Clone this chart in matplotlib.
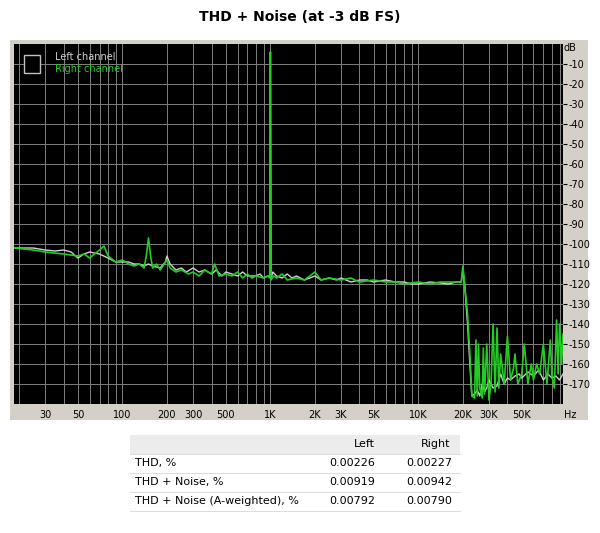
import matplotlib
matplotlib.use("Agg")
import matplotlib.pyplot as plt
from matplotlib.patches import Rectangle

freq_l = [18.5, 25, 30, 35, 40, 45, 50, 55, 60, 70, 80, 90, 100, 110, 120, 130, 140, 150, 160, 180, 195, 200, 210, 230, 250, 270, 300, 330, 360, 400, 430, 470, 500, 550, 600, 650, 700, 800, 850, 900, 960, 990, 1000, 1010, 1040, 1100, 1200, 1300, 1400, 1500, 1700, 2000, 2200, 2500, 2800, 3000, 3500, 4000, 4500, 5000, 6000, 7000, 8000, 9000, 10000, 12000, 14000, 16000, 18000, 19500, 20000, 20500, 21500, 22500, 23000, 24000, 25000, 26000, 27000, 28000, 29000, 30000, 32000, 34000, 36000, 38000, 40000, 42000, 45000, 48000, 50000, 55000, 60000, 65000, 70000, 75000, 80000, 85000, 90000, 95000]
db_l = [-102, -102, -103, -103.5, -103, -104, -107, -105, -104, -105, -107, -109, -109, -109, -110, -110, -111, -110, -111, -112, -109, -106, -110, -113, -112, -114, -112, -114, -113, -115, -113, -116, -114, -115, -116, -114, -116, -116, -115, -117, -116, -116, -4, -117, -114, -116, -117, -115, -117, -116, -118, -116, -118, -117, -118, -117, -119, -118, -118, -119, -118, -119, -119, -120, -120, -119, -119.5, -120, -119, -119, -113, -119, -140, -165, -176, -175, -173, -176, -170, -174, -172, -168, -172, -171, -165, -170, -167, -168, -166, -165, -167, -164, -166, -163, -168, -165, -167, -166, -168, -165]

freq_r = [18.5, 25, 30, 40, 50, 55, 60, 70, 75, 80, 90, 100, 110, 120, 130, 140, 145, 150, 155, 160, 170, 180, 200, 210, 230, 250, 280, 300, 330, 360, 400, 420, 450, 500, 550, 600, 650, 700, 750, 800, 900, 960, 990, 1000, 1010, 1050, 1100, 1200, 1300, 1500, 1700, 2000, 2200, 2500, 3000, 3500, 4000, 5000, 6000, 7000, 8000, 10000, 12000, 14000, 16000, 18000, 19500, 20000, 20500, 21500, 22500, 23000, 24000, 24500, 25000, 25500, 26000, 27000, 27500, 28000, 29000, 30000, 31000, 32000, 33000, 34000, 35000, 36000, 38000, 40000, 42000, 44000, 45000, 47000, 50000, 52000, 55000, 58000, 60000, 63000, 66000, 70000, 74000, 78000, 80000, 83000, 86000, 88000, 90000, 93000, 95000]
db_r = [-102, -103, -104, -105, -106, -105, -107, -103, -101, -106, -109, -108, -110, -111, -110, -112, -106, -97, -106, -112, -110, -113, -108, -112, -114, -113, -115, -114, -116, -113, -115, -110, -116, -115, -116, -114, -117, -115, -117, -116, -117, -116, -117, -4, -118, -116, -117, -115, -118, -117, -118, -114, -118, -117, -118, -117, -119, -118, -119, -119, -120, -119, -120, -119, -119, -119, -119, -111, -119, -135, -160, -176, -177, -148, -176, -150, -172, -177, -152, -175, -150, -178, -170, -140, -174, -142, -172, -155, -170, -146, -168, -162, -155, -170, -165, -150, -170, -160, -168, -160, -165, -150, -170, -148, -166, -172, -138, -165, -140, -160, -145]

tbl_rows = ["THD, %", "THD + Noise, %", "THD + Noise (A-weighted), %"]
tbl_left = ["0.00226", "0.00919", "0.00792"]
tbl_right = ["0.00227", "0.00942", "0.00790"]

xticks = [30, 50, 100, 200, 300, 500, 1000, 2000, 3000, 5000, 10000, 20000, 30000, 50000]
xlabels = ["30", "50", "100", "200", "300", "500", "1K", "2K", "3K", "5K", "10K", "20K", "30K", "50K"]
ytick_vals = list(range(-10, -180, -10))

fig = plt.figure(figsize=(6, 5.33), dpi=100)
bg = fig.add_axes([10/600, 1-420/533, 578/600, 380/533], zorder=-5)
bg.set_facecolor("#d4d0c8")
bg.set_xticks([]); bg.set_yticks([])
for s in bg.spines.values():
    s.set_visible(False)
fig.text(0.5, 1-17/533, "THD + Noise (at -3 dB FS)", ha="center", va="center", fontsize=10, fontweight="bold")

ax = fig.add_axes([14/600, 1-404/533, 549/600, 360/533], zorder=1)
ax.set_facecolor("black")
ax.set_xscale("log")
ax.set_xlim(18.5, 95000)
ax.set_ylim(-180, 0)
minor = [v * 10**k for k in range(1, 5) for v in range(2, 10)] + [10, 100, 1000, 10000, 100000]
for m in minor:
    if 18.5 < m < 95000:
        ax.axvline(m, color="#808080", lw=0.7, zorder=1)
for y in range(-170, 0, 10):
    ax.axhline(y, color="#808080", lw=0.7, zorder=1)
ax.plot(freq_l, db_l, color="#d0d0d0", lw=1.0, zorder=2)
ax.plot(freq_r, db_r, color="#22cc22", lw=1.2, zorder=3)
ax.set_xticks(xticks)
ax.set_xticklabels(xlabels)
ax.xaxis.set_minor_locator(matplotlib.ticker.NullLocator())
ax.tick_params(axis="x", length=0, labelsize=7, pad=4)
ax.yaxis.tick_right()
ax.set_yticks(ytick_vals)
ax.set_yticklabels([str(v) for v in ytick_vals])
ax.tick_params(axis="y", length=3, labelsize=7, pad=1, direction="out")
for s in ax.spines.values():
    s.set_visible(False)
fig.text(564/600, 1-404/533 - 0.012, "Hz", fontsize=7, va="top")
fig.text(564/600, 1-48/533, "dB", fontsize=7, va="center")

ax.add_patch(Rectangle((0.018, 0.92), 0.03, 0.05, transform=ax.transAxes, facecolor="black",
                       edgecolor="#c0c0c0", lw=1, zorder=4))
ax.text(0.075, 0.965, "Left channel", transform=ax.transAxes, color="#d0d0d0", fontsize=7, va="center")
ax.text(0.075, 0.93, "Right channel", transform=ax.transAxes, color="#22cc22", fontsize=7, va="center")

# table
fig.patches.append(Rectangle((130/600, 1-455/533), 330/600, 20/533, transform=fig.transFigure,
                             facecolor="#ececec", edgecolor="none"))
ys = [444, 463, 482, 501]
fig.text(375/600, 1-ys[0]/533, "Left", ha="right", va="center", fontsize=8)
fig.text(450/600, 1-ys[0]/533, "Right", ha="right", va="center", fontsize=8)
for i in range(3):
    y = 1 - ys[i+1]/533
    fig.text(135/600, y, tbl_rows[i], ha="left", va="center", fontsize=8)
    fig.text(375/600, y, tbl_left[i], ha="right", va="center", fontsize=8)
    fig.text(452/600, y, tbl_right[i], ha="right", va="center", fontsize=8)
    fig.add_artist(plt.Line2D([130/600, 460/600], [1-(ys[i]+9.5)/533]*2, transform=fig.transFigure,
                              color="#dddddd", lw=0.8))
fig.add_artist(plt.Line2D([130/600, 460/600], [1-511/533]*2, transform=fig.transFigure, color="#dddddd", lw=0.8))

fig.savefig("out.png", dpi=100)
